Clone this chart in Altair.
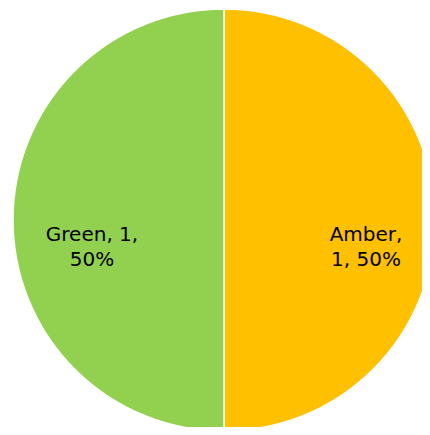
import altair as alt
import pandas as pd

categories = ["Amber", "Green"]
values = [1, 1]
percents = ["50%", "50%"]
colors = ["#FFC000", "#92D050"]

df = pd.DataFrame({"cat": categories, "value": values, "pct": percents})
df["order"] = range(len(df))
df["label"] = [
    "Amber,\n1, 50%",
    "Green, 1,\n50%",
]

CX, CY = 216, 212

base = alt.Chart(df).encode(
    theta=alt.Theta("value:Q", stack=True),
    order=alt.Order("order:Q"),
)

pie = base.mark_arc(
    outerRadius=211, stroke="white", strokeWidth=1.5
).encode(
    x=alt.value(CX),
    y=alt.value(CY),
    color=alt.Color("cat:N", scale=alt.Scale(domain=categories, range=colors), legend=None),
)

text = base.mark_text(
    radius=137, font="DejaVu Sans", fontSize=20, color="black",
    lineBreak="\n", lineHeight=25, align="center", baseline="middle", dx=5, dy=15,
).encode(
    x=alt.value(CX),
    y=alt.value(CY),
    text="label:N",
)

chart = (pie + text).properties(
    width=414, height=419, padding=0, autosize=alt.AutoSizeParams(type="none")
).configure_view(stroke=None)

chart.save("out.html", embed_options={"renderer": "svg", "actions": False})
